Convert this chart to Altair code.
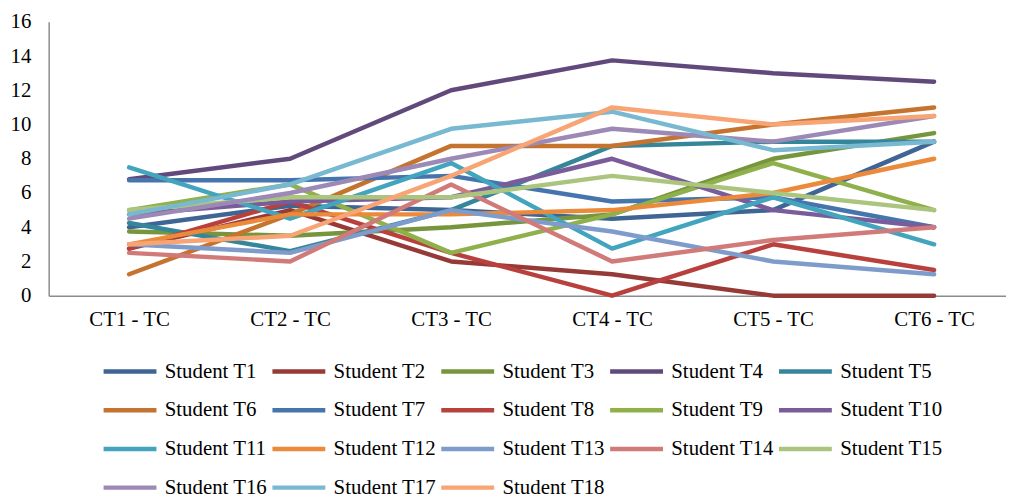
import altair as alt
import pandas as pd

tests = ["CT1 - TC", "CT2 - TC", "CT3 - TC", "CT4 - TC", "CT5 - TC", "CT6 - TC"]
students = [f"Student T{i}" for i in range(1, 19)]

T1 = [4, 5.25, 5, 4.5, 5, 9]
T2 = [2.75, 5, 2, 1.25, 0, 0]
T3 = [3.75, 3.5, 4, 4.75, 8, 9.5]
T4 = [6.8, 8, 12, 13.75, 13, 12.5]
T5 = [4.25, 2.6, 5, 8.75, 9, 9]
T6 = [1.25, 4.75, 8.75, 8.75, 10, 11]
T7 = [6.75, 6.75, 7, 5.5, 5.75, 4]
T8 = [2.75, 5.5, 2.5, 0, 3, 1.5]
T9 = [5, 6.5, 2.5, 4.75, 7.75, 5]
T10 = [4.75, 5.5, 5.75, 8, 5, 4]
T11 = [7.5, 4.5, 7.75, 2.75, 5.75, 3]
T12 = [3, 4.75, 4.75, 5, 6, 8]
T13 = [3, 2.5, 5, 3.75, 2, 1.25]
T14 = [2.5, 2, 6.5, 2, 3.25, 4]
T15 = [5, 5.75, 5.75, 7, 6, 5]
T16 = [4.5, 6, 8, 9.75, 9, 10.5]
T17 = [4.75, 6.5, 9.75, 10.75, 8.5, 9]
T18 = [3, 3.5, 7, 11, 10, 10.5]

series = [T1, T2, T3, T4, T5, T6, T7, T8, T9, T10, T11, T12, T13, T14, T15, T16, T17, T18]

colors = ["#3F6595", "#963A37", "#77953D", "#614A7B", "#36869B", "#C57430",
          "#4675AE", "#B8413E", "#8FB04B", "#7A5C9B", "#43A4BE", "#EC8A3C",
          "#7E9CCB", "#D07B79", "#ABC57F", "#9C89B6", "#78B8D0", "#F7A574"]

rows = []
for name, vals in zip(students, series):
    for t, v in zip(tests, vals):
        rows.append({"student": name, "test": t, "score": v})
df = pd.DataFrame(rows)

FONT = "Liberation Serif"

chart = alt.Chart(df).mark_line(
    strokeWidth=4.5, strokeCap="round", strokeJoin="round"
).encode(
    x=alt.X("test:N", sort=tests,
            scale=alt.Scale(type="point", padding=0.473, align=0.528),
            axis=alt.Axis(title=None, labelAngle=0, ticks=False, domainColor="#8c8c8c",
                          domainWidth=1.5, labelFont=FONT, labelFontSize=21,
                          labelColor="#000000", labelPadding=13)),
    y=alt.Y("score:Q", scale=alt.Scale(domain=[0, 16], nice=False),
            axis=alt.Axis(title=None, values=list(range(0, 17, 2)), grid=False, ticks=False,
                          domainColor="#8c8c8c", domainWidth=1.5, labelFont=FONT,
                          labelFontSize=21, labelColor="#000000", labelPadding=18)),
    color=alt.Color("student:N", sort=students,
                    scale=alt.Scale(domain=students, range=colors),
                    legend=alt.Legend(title=None, orient="none", legendX=53, legendY=323.5,
                                      direction="horizontal", columns=5,
                                      symbolType="stroke", symbolSize=2840,
                                      symbolStrokeWidth=4.5, labelFont=FONT,
                                      labelFontSize=21, labelColor="#000000",
                                      labelOffset=6, columnPadding=-4.8, rowPadding=0,
                                      labelLimit=300, symbolLimit=0)),
).properties(
    width=965, height=276,
    autosize=alt.AutoSizeParams(type="none"),
    padding={"left": 41, "top": 12, "right": 0, "bottom": 203},
).configure_view(stroke=None)

chart.save("out.html", embed_options={"renderer": "svg", "actions": False})
